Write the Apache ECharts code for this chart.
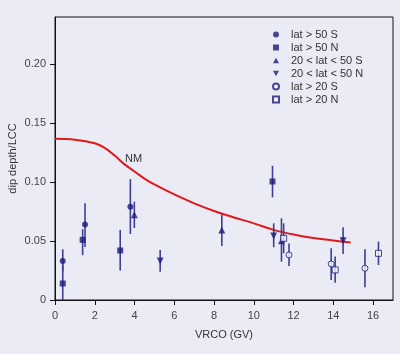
<!DOCTYPE html>
<html>
<head>
<meta charset="utf-8">
<script src="https://cdn.jsdelivr.net/npm/echarts@6/dist/echarts.min.js"></script>
<style>
  html, body { margin: 0; padding: 0; background: #ebebf5; }
  #chart { width: 400px; height: 354px; }
</style>
</head>
<body>
<div id="chart"></div>
<script>
// NM model curve
var curveX = [0, 1, 2, 2.5, 3, 3.5, 4, 4.5, 5, 6, 7, 8, 9, 10, 11, 12, 13, 14, 14.87]
var curveY = [0.1367, 0.136, 0.133, 0.129, 0.1225, 0.115, 0.109, 0.103, 0.098, 0.0895, 0.082, 0.0755, 0.070, 0.065, 0.0595, 0.0555, 0.0525, 0.0505, 0.0487]

// lat > 50 S
var s50X = [0.39, 1.51, 3.79]
var s50Y = [0.033, 0.064, 0.079]
var s50Lo = [0.024, 0.045, 0.056]
var s50Hi = [0.043, 0.082, 0.1025]
// lat > 50 N
var n50X = [0.39, 1.39, 3.28, 10.94]
var n50Y = [0.014, 0.051, 0.042, 0.1005]
var n50Lo = [0, 0.038, 0.025, 0.087]
var n50Hi = [0.03, 0.06, 0.0594, 0.1138]
// 20 < lat < 50 S
var s2050X = [3.99, 8.39, 11.39]
var s2050Y = [0.0724, 0.0594, 0.0503]
var s2050Lo = [0.061, 0.0458, 0.0325]
var s2050Hi = [0.0834, 0.0722, 0.0693]
// 20 < lat < 50 N
var n2050X = [5.29, 11.0, 14.49]
var n2050Y = [0.033, 0.0543, 0.0503]
var n2050Lo = [0.024, 0.0447, 0.039]
var n2050Hi = [0.0424, 0.065, 0.0617]
// lat > 20 S
var s20X = [11.77, 13.89, 15.59]
var s20Y = [0.0382, 0.0306, 0.0269]
var s20Lo = [0.0289, 0.017, 0.0108]
var s20Hi = [0.048, 0.0439, 0.043]
// lat > 20 N
var n20X = [11.5, 14.09, 16.27]
var n20Y = [0.0523, 0.0255, 0.0396]
var n20Lo = [0.0396, 0.0147, 0.0297]
var n20Hi = [0.065, 0.0368, 0.0495]

var xTicks = [0, 2, 4, 6, 8, 10, 12, 14, 16]
var yTicks = [0, 0.05, 0.10, 0.15, 0.20]

var navy = '#1c1c78'
var barColor = '#3e3e94'
var font = 'Liberation Sans, Arial, sans-serif'

function zip2(a, b) {
  return a.map(function (v, i) { return [v, b[i]] })
}
function zip3(a, b, c) {
  return a.map(function (v, i) { return [v, b[i], c[i]] })
}

function errBars(xs, lo, hi) {
  return {
    type: 'custom',
    name: 'err',
    data: zip3(xs, lo, hi),
    z: 2,
    renderItem: function (params, api) {
      var p1 = api.coord([api.value(0), api.value(1)])
      var p2 = api.coord([api.value(0), api.value(2)])
      return {
        type: 'line',
        shape: { x1: p1[0], y1: p1[1], x2: p2[0], y2: p2[1] },
        style: { stroke: barColor, lineWidth: 1.6 }
      }
    }
  }
}

function points(name, xs, ys, symbol, size, open) {
  return {
    type: 'scatter',
    name: name,
    data: zip2(xs, ys),
    symbol: symbol,
    symbolSize: size,
    z: 3,
    itemStyle: open
      ? { color: '#f4f4fb', borderColor: navy, borderWidth: 1 }
      : { color: navy }
  }
}

var triDown = 'path://M0,0 L10,0 L5,9 Z'
var triUp = 'path://M5,0 L10,9 L0,9 Z'

var myChart = echarts.init(document.getElementById('chart'))

var option = {
  backgroundColor: '#ebebf5',
  animation: false,
  textStyle: { fontFamily: font },
  grid: {
    left: 55,
    right: 7,
    top: 17,
    bottom: 54,
    outerBoundsMode: 'none',
    show: true,
    borderColor: '#111',
    borderWidth: 1,
    backgroundColor: 'transparent'
  },
  legend: {
    orient: 'vertical',
    left: 267,
    top: 24,
    itemWidth: 6,
    itemHeight: 6,
    itemGap: 2,
    textStyle: { fontSize: 11, color: '#333', fontFamily: font, padding: [0, 0, 0, 7] },
    data: ['lat > 50 S', 'lat > 50 N', '20 < lat < 50 S', '20 < lat < 50 N', 'lat > 20 S', 'lat > 20 N']
  },
  xAxis: {
    type: 'value',
    min: 0,
    max: 17,
    interval: 2,
    name: 'VRCO (GV)',
    nameLocation: 'middle',
    nameGap: 29,
    nameMoveOverlap: false,
    nameTextStyle: { fontSize: 11, color: '#333' },
    axisLine: { show: true, lineStyle: { color: '#111' } },
    axisTick: { show: true, length: 5, customValues: xTicks, lineStyle: { color: '#111' } },
    axisLabel: {
      fontSize: 11,
      color: '#444',
      margin: 10,
      customValues: xTicks,
      formatter: function (v) { return String(v) }
    },
    splitLine: { show: false }
  },
  yAxis: {
    type: 'value',
    min: 0,
    max: 0.24,
    interval: 0.05,
    name: 'dip depth/LCC',
    nameLocation: 'middle',
    nameGap: 37,
    nameMoveOverlap: false,
    nameTextStyle: { fontSize: 11, color: '#333' },
    axisLine: { show: true, lineStyle: { color: '#111' } },
    axisTick: { show: true, length: 5, customValues: yTicks, lineStyle: { color: '#111' } },
    axisLabel: {
      fontSize: 11,
      color: '#444',
      margin: 9,
      customValues: yTicks,
      formatter: function (v) { return v === 0 ? '0' : v.toFixed(2) }
    },
    splitLine: { show: false }
  },
  series: [
    {
      type: 'line',
      name: 'NM',
      data: zip2(curveX, curveY),
      smooth: 0.4,
      showSymbol: false,
      symbol: 'none',
      z: 1,
      lineStyle: { color: '#e0191b', width: 2 },
      markPoint: {
        symbol: 'circle',
        symbolSize: 0,
        label: { show: true, position: 'inside', formatter: 'NM', fontSize: 11, color: '#333' },
        data: [{ coord: [3.95, 0.12] }]
      }
    },
    errBars(s50X, s50Lo, s50Hi),
    errBars(n50X, n50Lo, n50Hi),
    errBars(s2050X, s2050Lo, s2050Hi),
    errBars(n2050X, n2050Lo, n2050Hi),
    errBars(s20X, s20Lo, s20Hi),
    errBars(n20X, n20Lo, n20Hi),
    points('lat > 50 S', s50X, s50Y, 'circle', 6, false),
    points('lat > 50 N', n50X, n50Y, 'rect', 6, false),
    points('20 < lat < 50 S', s2050X, s2050Y, triUp, [7, 7], false),
    points('20 < lat < 50 N', n2050X, n2050Y, triDown, [7, 7], false),
    points('lat > 20 S', s20X, s20Y, 'circle', 6, true),
    points('lat > 20 N', n20X, n20Y, 'rect', 6, true)
  ]
}

myChart.setOption(option)
</script>
</body>
</html>
